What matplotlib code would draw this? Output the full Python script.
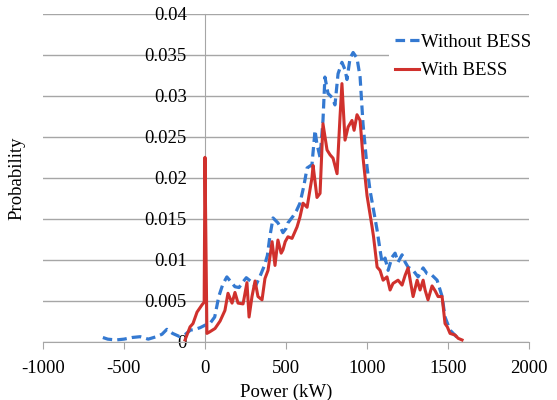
import matplotlib.pyplot as plt
import numpy as np

plt.rcParams['font.family'] = ['Liberation Serif', 'DejaVu Serif']
plt.rcParams['axes.unicode_minus'] = False

# Without BESS (kW, probability)
p_without = [-630, -600, -550, -500, -450, -400, -350, -300, -265, -235, -200, -155, -120, -90, -60, -30,
             0, 30, 60, 85, 110, 135, 160, 185, 210, 235, 255, 280, 310, 340, 365, 385, 400, 420, 450,
             465, 481, 500, 512, 543, 565, 586, 610, 630, 660, 679, 690, 710, 728, 740, 759, 784, 802,
             821, 845, 864, 876, 895, 914, 938, 957, 975, 1000, 1018, 1037, 1062, 1080, 1093, 1111,
             1130, 1154, 1173, 1191, 1216, 1235, 1253, 1284, 1315, 1346, 1370, 1401, 1432, 1463, 1481,
             1512, 1556, 1574]
prob_without = [0.0005, 0.0003, 0.0002, 0.0003, 0.0005, 0.0006, 0.0003, 0.0006, 0.0009, 0.0015, 0.0010,
                0.0006, 0.0009, 0.0014, 0.0015, 0.0017, 0.0020, 0.0022, 0.0030, 0.0055, 0.0070, 0.0079,
                0.0073, 0.0067, 0.0066, 0.0073, 0.0078, 0.0074, 0.0067, 0.0080, 0.0092, 0.0105, 0.0128,
                0.0151, 0.0145, 0.0140, 0.0133, 0.0138, 0.0145, 0.0153, 0.0160, 0.0169, 0.0190, 0.0212,
                0.0216, 0.0258, 0.0242, 0.0225, 0.0270, 0.0323, 0.0303, 0.0298, 0.0289, 0.0327, 0.0341,
                0.0332, 0.0320, 0.0346, 0.0353, 0.0346, 0.0323, 0.0266, 0.0213, 0.0185, 0.0164, 0.0136,
                0.0112, 0.0096, 0.0102, 0.0087, 0.0103, 0.0108, 0.0097, 0.0106, 0.0097, 0.0091, 0.0087,
                0.0079, 0.0090, 0.0083, 0.0081, 0.0075, 0.0055, 0.0030, 0.0014, 0.0005, 0.0002]

# With BESS (kW, probability)
p_with = [-123, -92, -74, -49, -18, -5, 0, 12, 30, 62, 93, 123, 142, 167, 185, 204, 235, 259, 272, 290,
          309, 327, 352, 370, 389, 414, 432, 450, 470, 481, 495, 512, 537, 568, 586, 605, 630, 660, 667,
          691, 710, 728, 753, 772, 790, 815, 833, 845, 864, 883, 907, 920, 938, 957, 975, 1000, 1031,
          1040, 1062, 1080, 1099, 1123, 1142, 1160, 1191, 1216, 1235, 1253, 1284, 1309, 1327, 1346,
          1358, 1376, 1401, 1420, 1438, 1463, 1481, 1495, 1512, 1543, 1562, 1586]
prob_with = [0.0002, 0.0018, 0.0022, 0.0036, 0.0045, 0.0048, 0.0225, 0.0010, 0.0012, 0.0016, 0.0025,
             0.0038, 0.0059, 0.0047, 0.0060, 0.0047, 0.0046, 0.0072, 0.0030, 0.0055, 0.0074, 0.0055,
             0.0051, 0.0077, 0.0087, 0.0122, 0.0093, 0.0124, 0.0108, 0.0112, 0.0122, 0.0128, 0.0126,
             0.0140, 0.0152, 0.0169, 0.0164, 0.0200, 0.0215, 0.0176, 0.0181, 0.0266, 0.0234, 0.0228,
             0.0224, 0.0205, 0.0274, 0.0315, 0.0246, 0.0262, 0.0270, 0.0258, 0.0277, 0.0270, 0.0225,
             0.0178, 0.0140, 0.0128, 0.0091, 0.0087, 0.0075, 0.0079, 0.0063, 0.0071, 0.0075, 0.0069,
             0.0081, 0.0090, 0.0055, 0.0075, 0.0063, 0.0075, 0.0063, 0.0051, 0.0068, 0.0062, 0.0055,
             0.0055, 0.0022, 0.0018, 0.0010, 0.0008, 0.0004, 0.0002]

x_ticks = [-1000, -500, 0, 500, 1000, 1500, 2000]
y_ticks = [0, 0.005, 0.01, 0.015, 0.02, 0.025, 0.03, 0.035, 0.04]
y_labels = ['0', '0.005', '0.01', '0.015', '0.02', '0.025', '0.03', '0.035', '0.04']

fig = plt.figure(figsize=(5.57, 4), dpi=100)
ax = fig.add_axes([0.077, 0.146, 0.873, 0.819])

grid_c = '#A6A6A6'
ax.plot(p_without, prob_without, color='#3479D1', linewidth=2.3, linestyle=(0, (3, 1.6)),
        label='Without BESS', zorder=3)
ax.plot(p_with, prob_with, color='#D0312D', linewidth=2.2, label='With BESS', zorder=4)

ax.set_xlim(-1000, 2000)
ax.set_ylim(0, 0.04)
ax.set_xticks(x_ticks)
ax.set_yticks(y_ticks)
ax.set_yticklabels(y_labels)
ax.yaxis.grid(True, color=grid_c, linewidth=1.0)
ax.set_axisbelow(True)

for s in ['top', 'right']:
    ax.spines[s].set_visible(False)
ax.spines['left'].set_position(('data', 0))
ax.spines['left'].set_color(grid_c)
ax.spines['bottom'].set_color(grid_c)
ax.tick_params(axis='y', length=0, pad=13, labelsize=13.5)
ax.tick_params(axis='x', direction='out', length=5, color=grid_c, pad=8, labelsize=13.5)

ax.set_xlabel('Power (kW)', fontsize=13.5, labelpad=5)
ax.set_ylabel('Probability', fontsize=13.5)
ax.yaxis.set_label_coords(-0.035, 0.5)

leg = ax.legend(loc='upper right', bbox_to_anchor=(1.035, 0.985), frameon=True, fontsize=13.5,
                handlelength=1.3, handletextpad=0.1, borderpad=0.3, labelspacing=0.6)
leg.get_frame().set_edgecolor('none')
leg.get_frame().set_facecolor('white')
leg.get_frame().set_alpha(1)

fig.savefig('out.png', dpi=100)
